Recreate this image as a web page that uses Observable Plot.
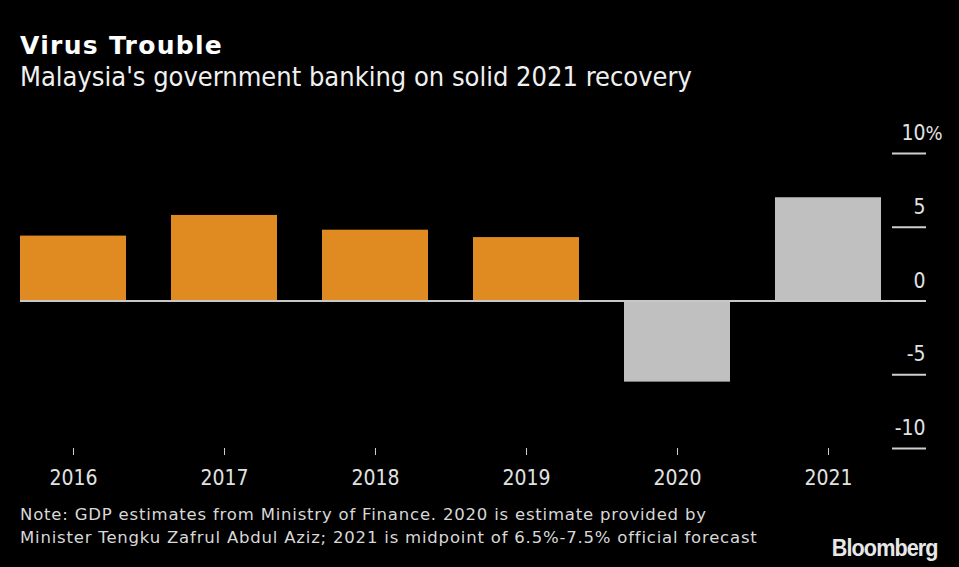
<!DOCTYPE html>
<html><head><meta charset="utf-8">
<script src="https://cdn.jsdelivr.net/npm/d3@7"></script>
<script src="https://cdn.jsdelivr.net/npm/@observablehq/plot@0.6"></script>
<style>
body{margin:0;background:#000;width:959px;height:567px;overflow:hidden;position:relative;font-family:"DejaVu Sans Condensed","DejaVu Sans",sans-serif;color:#e2e2e2}
#title{position:absolute;left:20px;top:31px;font-family:"DejaVu Sans",sans-serif;font-weight:bold;font-size:25px;letter-spacing:1.3px;color:#fff;white-space:nowrap}
#subtitle{position:absolute;left:20px;top:61px;font-size:27px;color:#f0f0f0;white-space:nowrap}
#chart{position:absolute;left:0;top:110px}
#note{position:absolute;left:20px;top:503px;font-family:"DejaVu Sans",sans-serif;font-size:16.5px;letter-spacing:0.8px;line-height:23px;color:#d8d8d8;white-space:nowrap}
#logo{position:absolute;right:21px;top:534px;font-family:"Liberation Sans",Arial,sans-serif;font-weight:bold;font-size:24px;letter-spacing:-1px;transform:scaleX(0.9);transform-origin:right center;color:#e8e8e8}
</style></head>
<body>
<div id="title">Virus Trouble</div>
<div id="subtitle">Malaysia's government banking on solid 2021 recovery</div>
<div id="chart"></div>
<div id="note">Note: GDP estimates from Ministry of Finance. 2020 is estimate provided by<br>Minister Tengku Zafrul Abdul Aziz; 2021 is midpoint of 6.5%-7.5% official forecast</div>
<div id="logo">Bloomberg</div>
<script>
const years = ["2016", "2017", "2018", "2019", "2020", "2021"];
const growth = [4.4, 5.8, 4.8, 4.3, -5.5, 7.0];
const kind = ["Actual", "Actual", "Actual", "Actual", "Estimate", "Forecast"];
const yTicks = [-10, -5, 0, 5, 10];

const data = years.map((y, i) => ({year: y, value: growth[i], kind: kind[i]}));
const font = '"DejaVu Sans Condensed","DejaVu Sans",sans-serif';

const chart = Plot.plot({
  width: 959,
  height: 383,
  marginTop: 43,
  marginLeft: 20,
  marginRight: 78,
  marginBottom: 45,
  style: {background: "transparent", color: "#e2e2e2", fontFamily: font, fontSize: "21px"},
  x: {domain: years, paddingInner: 0.3, paddingOuter: 0, align: 0},
  y: {domain: [-10, 10]},
  color: {domain: ["Actual", "Estimate", "Forecast"], range: ["#e08b22", "#c0c0c0", "#c0c0c0"]},
  marks: [
    Plot.barY(data, {x: "year", y: "value", fill: "kind"}),
    Plot.ruleY([0], {stroke: "#c8c8c8", strokeWidth: 2, insetRight: -44}),
    Plot.axisX({tickSize: 7, tickPadding: 15, label: null, stroke: "#cfcfcf", fill: "#e2e2e2"}),
    Plot.axisY(yTicks, {anchor: "right", tickSize: 34, dx: 10, tickFormat: () => "", label: null, stroke: "#cfcfcf", strokeWidth: 2}),
    Plot.axisY(yTicks, {anchor: "right", tickSize: 0, tickPadding: 0, textAnchor: "end", dx: 44, dy: -20, label: null, fill: "#e2e2e2", fontSize: 21, tickFormat: d => String(d)}),
    Plot.text([10], {y: d => d, frameAnchor: "right", text: () => "%", dx: 44, dy: -20, textAnchor: "start", fill: "#e2e2e2", fontSize: 20})
  ]
});
document.getElementById("chart").appendChild(chart);
</script>
</body></html>
